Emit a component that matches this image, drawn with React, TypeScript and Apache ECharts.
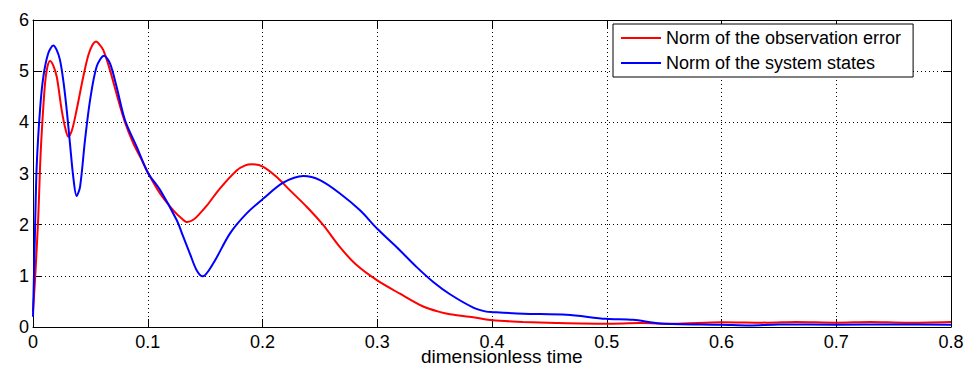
import React, { useEffect, useRef } from "react";
import * as echarts from "echarts";

const seriesNames = ["Norm of the observation error", "Norm of the system states"];
const xTicks = [0, 0.1, 0.2, 0.3, 0.4, 0.5, 0.6, 0.7, 0.8];
const yTicks = [0, 1, 2, 3, 4, 5, 6];
const xLabel = "dimensionless time";

const errT = [0, 0.0017, 0.0046, 0.0061, 0.0076, 0.0105, 0.0125, 0.0148, 0.0175, 0.0207, 0.025, 0.0285, 0.0308, 0.034, 0.038, 0.0438, 0.0482, 0.052, 0.0549, 0.058, 0.0613, 0.0671, 0.0744, 0.0802, 0.0874, 0.094, 0.1005, 0.1107, 0.1223, 0.1296, 0.1345, 0.14, 0.1455, 0.1514, 0.163, 0.1775, 0.185, 0.1906, 0.2007, 0.2124, 0.224, 0.2385, 0.253, 0.2675, 0.282, 0.3, 0.3198, 0.34, 0.355, 0.3634, 0.3837, 0.4006, 0.427, 0.456, 0.4993, 0.529, 0.558, 0.6, 0.64, 0.665, 0.7, 0.73, 0.76, 0.8];
const errY = [0.3, 0.9, 2.15, 3.1, 3.8, 4.76, 5.08, 5.2, 5.12, 4.89, 4.24, 3.85, 3.72, 3.85, 4.24, 4.89, 5.31, 5.52, 5.58, 5.52, 5.41, 5.02, 4.43, 4.0, 3.59, 3.3, 3.0, 2.61, 2.28, 2.12, 2.05, 2.1, 2.22, 2.37, 2.71, 3.06, 3.16, 3.18, 3.13, 2.93, 2.67, 2.35, 1.99, 1.56, 1.21, 0.91, 0.65, 0.4, 0.29, 0.25, 0.19, 0.13, 0.1, 0.08, 0.065, 0.076, 0.065, 0.095, 0.085, 0.1, 0.085, 0.1, 0.085, 0.1];

const stT = [0, 0.0017, 0.0032, 0.0061, 0.009, 0.0133, 0.0177, 0.0205, 0.0235, 0.0265, 0.0294, 0.0322, 0.0351, 0.038, 0.041, 0.0453, 0.0497, 0.0555, 0.0619, 0.0671, 0.0729, 0.0802, 0.0904, 0.1005, 0.1107, 0.1252, 0.131, 0.1368, 0.1426, 0.1479, 0.157, 0.1717, 0.1862, 0.2007, 0.2181, 0.2356, 0.2501, 0.2675, 0.285, 0.3, 0.317, 0.3344, 0.3488, 0.3634, 0.3837, 0.395, 0.4006, 0.4273, 0.465, 0.4993, 0.523, 0.5464, 0.6, 0.625, 0.65, 0.7, 0.75, 0.8];
const stY = [0.2, 1.83, 3.13, 4.24, 4.89, 5.35, 5.5, 5.42, 5.22, 4.8, 4.24, 3.59, 2.93, 2.56, 2.74, 3.65, 4.43, 5.09, 5.3, 5.15, 4.69, 4.04, 3.52, 3.0, 2.68, 2.09, 1.76, 1.43, 1.11, 0.99, 1.24, 1.83, 2.22, 2.51, 2.82, 2.95, 2.87, 2.61, 2.28, 1.92, 1.56, 1.17, 0.88, 0.64, 0.38, 0.3, 0.29, 0.26, 0.24, 0.16, 0.14, 0.07, 0.045, 0.03, 0.05, 0.045, 0.05, 0.045];

const FONT = "'Liberation Sans', Arial, Helvetica, sans-serif";

export default function App() {
  const ref = useRef<HTMLDivElement>(null);
  useEffect(() => {
    if (!ref.current) return;
    const chart = echarts.init(ref.current, undefined, { renderer: "svg" });
    const pairs = (t: number[], y: number[]) => t.map((v, i) => [v, y[i]]);
    const tickStyle = { show: true, inside: true, length: 8, lineStyle: { color: "#000", width: 1 } };
    const gridDots = { show: true, lineStyle: { color: "#000", width: 1, type: [1, 3] as any } };
    chart.setOption({
      animation: false,
      backgroundColor: "#fff",
      textStyle: { fontFamily: FONT },
      grid: { left: 33, right: 28, top: 20, bottom: 39, containLabel: false },
      legend: {
        orient: "vertical",
        left: 613,
        top: 24,
        padding: [5, 12, 5, 7],
        itemGap: 7,
        itemWidth: 40,
        itemHeight: 18,
        borderColor: "#000",
        borderWidth: 1,
        borderRadius: 0,
        backgroundColor: "#fff",
        itemStyle: { opacity: 0 },
        lineStyle: { width: 2 },
        textStyle: { fontFamily: FONT, fontSize: 18, color: "#000", lineHeight: 18 },
        data: seriesNames,
      },
      xAxis: [
        {
          type: "value",
          min: xTicks[0],
          max: xTicks[xTicks.length - 1],
          interval: 0.1,
          position: "bottom",
          axisLine: { show: true, onZero: false, lineStyle: { color: "#000", width: 1 } },
          axisTick: tickStyle,
          axisLabel: { margin: 7, fontSize: 18, lineHeight: 16, color: "#000", fontFamily: FONT, formatter: (v: number) => String(Math.round(v * 10) / 10) },
          splitLine: gridDots,
        },
        {
          type: "value",
          min: xTicks[0],
          max: xTicks[xTicks.length - 1],
          interval: 0.1,
          position: "top",
          axisLine: { show: true, onZero: false, lineStyle: { color: "#000", width: 1 } },
          axisTick: tickStyle,
          axisLabel: { show: false },
          splitLine: { show: false },
        },
      ],
      yAxis: [
        {
          type: "value",
          min: yTicks[0],
          max: yTicks[yTicks.length - 1],
          interval: 1,
          position: "left",
          axisLine: { show: true, onZero: false, lineStyle: { color: "#000", width: 1 } },
          axisTick: tickStyle,
          axisLabel: { margin: 4, fontSize: 18, color: "#000", fontFamily: FONT },
          splitLine: gridDots,
        },
        {
          type: "value",
          min: yTicks[0],
          max: yTicks[yTicks.length - 1],
          interval: 1,
          position: "right",
          axisLine: { show: true, onZero: false, lineStyle: { color: "#000", width: 1 } },
          axisTick: tickStyle,
          axisLabel: { show: false },
          splitLine: { show: false },
        },
      ],
      graphic: [
        {
          type: "text",
          left: 421,
          top: 347,
          style: { text: xLabel, fontSize: 19, fontFamily: FONT, fill: "#000" },
        },
      ],
      series: [
        {
          name: seriesNames[0],
          type: "line",
          data: pairs(errT, errY),
          showSymbol: false,
          symbol: "none",
          smooth: 0.3,
          lineStyle: { color: "#ff0000", width: 2 },
          itemStyle: { color: "#ff0000" },
        },
        {
          name: seriesNames[1],
          type: "line",
          data: pairs(stT, stY),
          showSymbol: false,
          symbol: "none",
          smooth: 0.3,
          lineStyle: { color: "#0000ff", width: 2 },
          itemStyle: { color: "#0000ff" },
        },
      ],
    });
    return () => chart.dispose();
  }, []);
  return <div ref={ref} style={{ width: 979, height: 366, position: "absolute", left: 0, top: 0 }} />;
}
